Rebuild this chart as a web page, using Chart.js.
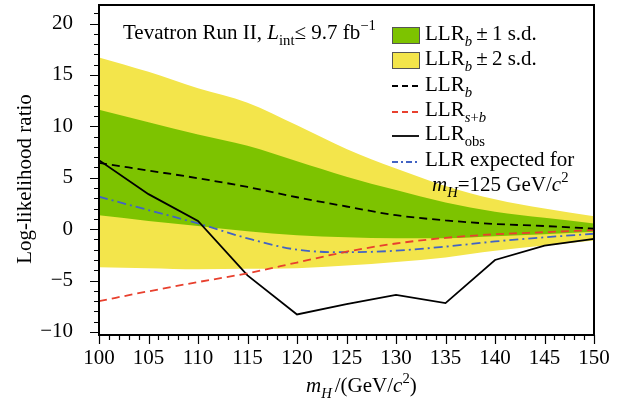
<!DOCTYPE html>
<html>
<head>
<meta charset="utf-8">
<script src="https://cdn.jsdelivr.net/npm/chart.js@4/dist/chart.umd.min.js"></script>
<style>
  html, body { margin: 0; padding: 0; background: #fff; }
  #wrap { width: 629px; height: 401px; position: relative; }
</style>
</head>
<body>
<div id="wrap"><canvas id="llrChart"></canvas></div>
<script>
// Higgs mass points (GeV/c^2)
const masses = [100, 105, 110, 115, 120, 125, 130, 135, 140, 145, 150];

// Background-only expectation bands
const yellowUpper = [16.7, 15.3, 13.7, 12.3, 10.1, 7.8, 5.9, 4.2, 2.9, 2.0, 1.25];
const yellowLower = [-3.7, -3.8, -3.9, -3.85, -3.8, -3.55, -3.2, -2.75, -2.1, -1.6, -1.1];
const greenUpper = [11.6, 10.4, 9.2, 8.1, 6.6, 5.1, 3.8, 2.6, 1.7, 1.1, 0.55];
const greenLower = [1.35, 0.8, 0.3, -0.2, -0.6, -0.8, -0.9, -0.9, -0.7, -0.5, -0.26];

// LLR curves
const llrB = [6.45, 5.7, 4.95, 4.1, 3.1, 2.2, 1.35, 0.85, 0.5, 0.3, 0.05];
const llrSB = [-7.0, -6.05, -5.15, -4.3, -3.25, -2.2, -1.4, -0.85, -0.5, -0.3, -0.1];
const llrObs = [6.7, 3.4, 0.8, -4.5, -8.3, -7.3, -6.4, -7.2, -3.0, -1.6, -0.95];
const llrExp125 = [3.15, 1.85, 0.55, -0.9, -2.0, -2.25, -2.1, -1.7, -1.2, -0.8, -0.45];

const FONT = '"Liberation Serif", "Times New Roman", serif';
const FS = 21;
const YELLOW = "#f3e54b";
const GREEN = "#7dc300";
const RED = "#e8402e";
const BLUE = "#4263c4";

const pts = arr => masses.map((m, i) => ({ x: m, y: arr[i] }));

// text with italic / sub / superscript pieces
function drawRich(ctx, x, y, parts, size) {
    let cx = x;
    for (const p of parts) {
        const s = (p.sub || p.sup) ? size * 0.7 : size;
        const dy = p.sub ? size * 0.28 : (p.sup ? -size * 0.42 : 0);
        ctx.font = (p.it ? "italic " : "") + s + "px " + FONT;
        ctx.fillText(p.t, cx, y + dy);
        cx += ctx.measureText(p.t).width + (p.gap || 0);
    }
    return cx;
}

const frameAndTicks = {
    id: "frameAndTicks",
    afterDatasetsDraw(chart) {
        const { ctx, chartArea: a, scales } = chart;
        ctx.save();
        ctx.strokeStyle = "#000";
        ctx.lineWidth = 1.2;
        ctx.beginPath();
        // x ticks, every 1 GeV
        for (let v = 100; v <= 150; v++) {
            const px = Math.round(scales.x.getPixelForValue(v)) + 0.5;
            const len = v % 5 === 0 ? 9 : 5;
            ctx.moveTo(px, a.bottom);
            ctx.lineTo(px, a.bottom + len);
        }
        // y ticks, every 1 unit
        for (let v = -10; v <= 21; v++) {
            const py = Math.round(scales.y.getPixelForValue(v)) + 0.5;
            const len = v % 5 === 0 ? 9 : 5;
            ctx.moveTo(a.left, py);
            ctx.lineTo(a.left - len, py);
        }
        ctx.stroke();
        ctx.lineWidth = 2;
        ctx.strokeRect(a.left, a.top, a.right - a.left, a.bottom - a.top);
        ctx.restore();
    }
};

const labels = {
    id: "labels",
    afterDraw(chart) {
        const ctx = chart.ctx;
        ctx.save();
        ctx.fillStyle = "#000";
        ctx.textBaseline = "alphabetic";
        ctx.textAlign = "left";

        // axis titles
        drawRich(ctx, 306, 392, [
            { t: "m", it: true }, { t: "H", it: true, sub: true, gap: 3 },
            { t: "/(GeV/" }, { t: "c", it: true }, { t: "2", sup: true }, { t: ")" }
        ], FS);

        ctx.save();
        ctx.translate(31, 179);
        ctx.rotate(-Math.PI / 2);
        ctx.textAlign = "center";
        ctx.font = FS + "px " + FONT;
        ctx.fillText("Log-likelihood ratio", 0, 0);
        ctx.restore();

        // run label
        drawRich(ctx, 123, 39, [
            { t: "Tevatron Run II, " }, { t: "L", it: true }, { t: "int", sub: true },
            { t: "\u2264 9.7 fb" }, { t: "\u22121", sup: true }
        ], FS);

        // legend
        const lx = 392, lw = 27, tx = 425;
        ctx.lineWidth = 1;
        ctx.fillStyle = GREEN;
        ctx.fillRect(lx, 27, lw, 16);
        ctx.strokeStyle = "#555";
        ctx.strokeRect(lx + 0.5, 27.5, lw, 16);
        ctx.fillStyle = YELLOW;
        ctx.fillRect(lx, 52, lw, 16);
        ctx.strokeRect(lx + 0.5, 52.5, lw, 16);

        const sample = (y, color, dash) => {
            ctx.strokeStyle = color;
            ctx.lineWidth = 1.8;
            ctx.setLineDash(dash);
            ctx.beginPath();
            ctx.moveTo(lx, y);
            ctx.lineTo(lx + lw, y);
            ctx.stroke();
        };
        sample(86, "#000", [6, 4]);
        sample(112, RED, [6, 4]);
        sample(136, "#000", []);
        sample(162, BLUE, [6, 3, 2, 3]);
        ctx.setLineDash([]);

        ctx.fillStyle = "#000";
        drawRich(ctx, tx, 40, [{ t: "LLR" }, { t: "b", it: true, sub: true }, { t: "\u2009\u00b1\u20091 s.d." }], FS);
        drawRich(ctx, tx, 65, [{ t: "LLR" }, { t: "b", it: true, sub: true }, { t: "\u2009\u00b1\u20092 s.d." }], FS);
        drawRich(ctx, tx, 91, [{ t: "LLR" }, { t: "b", it: true, sub: true }], FS);
        drawRich(ctx, tx, 116, [{ t: "LLR" }, { t: "s", it: true, sub: true }, { t: "+", sub: true }, { t: "b", it: true, sub: true }], FS);
        drawRich(ctx, tx, 140, [{ t: "LLR" }, { t: "obs", sub: true }], FS);
        drawRich(ctx, tx, 166, [{ t: "LLR expected for" }], FS);
        drawRich(ctx, 432, 191, [
            { t: "m", it: true }, { t: "H", it: true, sub: true },
            { t: "=125 GeV/" }, { t: "c", it: true }, { t: "2", sup: true }
        ], FS);
        ctx.restore();
    }
};

const band = (arr, fill, color, order) => ({
    data: pts(arr),
    borderWidth: 0,
    pointRadius: 0,
    backgroundColor: color,
    fill: fill,
    cubicInterpolationMode: "monotone",
    order: order
});

const curve = (arr, color, dash, width, smooth) => ({
    data: pts(arr),
    borderColor: color,
    borderWidth: width,
    borderDash: dash,
    pointRadius: 0,
    fill: false,
    cubicInterpolationMode: smooth ? "monotone" : "default",
    tension: 0,
    order: 1
});

new Chart(document.getElementById("llrChart"), {
    type: "line",
    data: {
        datasets: [
            band(yellowUpper, "+1", YELLOW, 6),
            band(yellowLower, false, YELLOW, 6),
            band(greenUpper, "+1", GREEN, 5),
            band(greenLower, false, GREEN, 5),
            curve(llrB, "#000", [8, 5], 1.8, true),
            curve(llrSB, RED, [8, 5], 1.8, true),
            curve(llrObs, "#000", [], 1.8, false),
            curve(llrExp125, BLUE, [9, 4, 2, 4], 1.8, true)
        ]
    },
    options: {
        responsive: true,
        maintainAspectRatio: false,
        animation: false,
        layout: { padding: { top: 5, right: 35, left: 0, bottom: 0 } },
        plugins: { legend: { display: false }, tooltip: { enabled: false } },
        scales: {
            x: {
                type: "linear",
                min: 100,
                max: 150,
                grid: { display: false, drawTicks: false },
                border: { display: false },
                ticks: {
                    stepSize: 5,
                    autoSkip: false,
                    maxRotation: 0,
                    padding: 11,
                    color: "#000",
                    font: { family: FONT, size: FS }
                },
                afterFit(scale) { scale.height = 66; }
            },
            y: {
                min: -10.3,
                max: 21.8,
                grid: { display: false, drawTicks: false },
                border: { display: false },
                ticks: {
                    stepSize: 5,
                    includeBounds: false,
                    padding: 26,
                    color: "#000",
                    font: { family: FONT, size: FS },
                    callback: v => String(v).replace("-", "\u2212")
                },
                afterFit(scale) {
                    scale.width = 99;
                    // label padding must not push the plot area down
                    scale.paddingTop = 0;
                    scale.paddingBottom = 0;
                }
            }
        }
    },
    plugins: [frameAndTicks, labels]
});
</script>
</body>
</html>
